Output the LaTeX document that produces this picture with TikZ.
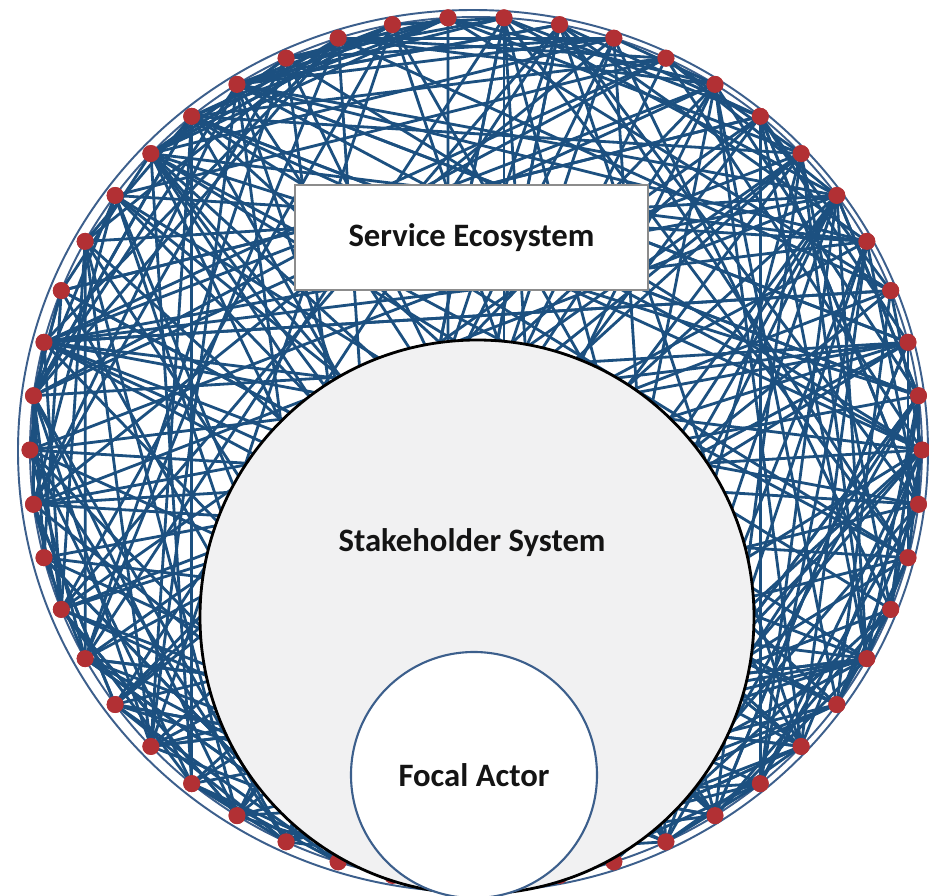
\documentclass[tikz,border=0pt]{standalone}
\usepackage{fontspec}
\newfontfamily\labelfont{Carlito}
\usepackage{tikz}
\usetikzlibrary{positioning}
\definecolor{netblue}{RGB}{28,80,128}
\definecolor{ringblue}{RGB}{60,95,140}
\definecolor{dotred}{RGB}{178,48,52}
\definecolor{stakegray}{RGB}{241,241,242}
\definecolor{boxgray}{RGB}{140,140,140}

\begin{document}
\begin{tikzpicture}[
  dot/.style={circle, fill=dotred, inner sep=0pt, minimum size=0.34cm},
  link/.style={netblue, line width=1.6pt},
  ring/.style={ringblue, line width=1.1pt},
  lbl/.style={font=\labelfont\bfseries\fontsize{18.6}{21}\selectfont, text=black!92}
]
  \useasboundingbox[fill=white] (-9.52,-8.92) rectangle (9.06,9.0);
  % outer boundary and the ring through the actors
  \draw[ring] (-0.06,-0.02) ellipse (9.10 and 8.82);
  \draw[ring] (0,0) ellipse (8.92 and 8.66);
  % actors on the ring
  \foreach \k in {0,...,49}
    \node[dot] (d\k) at ({7.2*\k}:8.92 and 8.66) {};
  % random ties between actors: long chords and a few short ones near the rim
  \pgfmathsetseed{4217}
  \foreach \i in {0,...,49}{
    \foreach \n in {1,...,5}{
      \pgfmathsetmacro\j{int(mod(\i+random(2,25),50))}
      \draw[link] (d\i.center) -- (d\j.center);
    }
    \pgfmathsetmacro\j{int(mod(\i+random(2,7),50))}
    \draw[link] (d\i.center) -- (d\j.center);
  }
  % redraw the dots over the ties
  \foreach \k in {0,...,49}
    \node[dot] at (d\k) {};
  % service ecosystem label
  \node[draw=boxgray, fill=white, line width=0.6pt, minimum width=7.06cm, minimum height=2.1cm, lbl]
    (eco) at (-0.09,4.25) {Service Ecosystem};
  % stakeholder system
  \node[circle, draw=black, fill=stakegray, line width=1.6pt, minimum size=11.08cm]
    (stake) at (0.02,-3.34) {};
  \node[lbl] (stakelbl) at (-0.08,-1.86) {Stakeholder System};
  % focal actor
  \node[circle, draw=ringblue, fill=white, line width=1.2pt, minimum size=4.92cm]
    (focal) at (-0.04,-6.5) {};
  \node[lbl] (focallbl) at (focal) {Focal Actor};
\end{tikzpicture}
\end{document}
